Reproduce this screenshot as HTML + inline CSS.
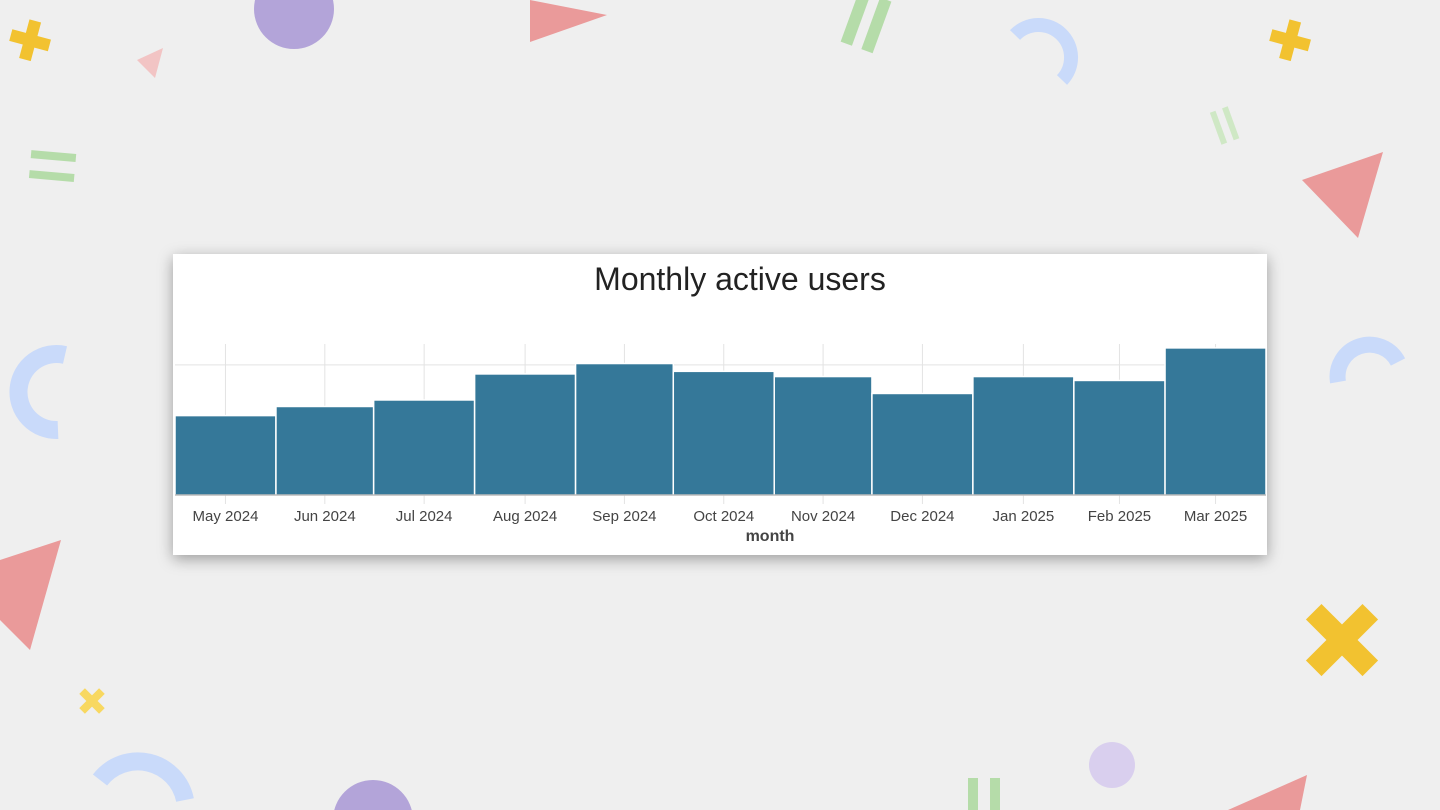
<!DOCTYPE html>
<html><head><meta charset="utf-8">
<style>
html,body{margin:0;padding:0;width:1440px;height:810px;overflow:hidden;}
body{background:#efefef;position:relative;font-family:"Liberation Sans",sans-serif;}
#card{position:absolute;left:173px;top:254px;width:1094px;height:301px;background:#fff;box-shadow:0 4px 14px rgba(0,0,0,0.35);}
svg{position:absolute;left:0;top:0;}
</style></head>
<body>
<svg width="1440" height="810" viewBox="0 0 1440 810" style="overflow:hidden">
  <path d="M10,35h14v-14h12v14h14v12h-14v14h-12v-14h-14z" transform="rotate(15 33 41)" fill="#f2c230"/>
  <circle cx="294" cy="9" r="40" fill="#b3a4d9"/>
  <polygon points="137,60 163,48 155,78" fill="#f2c4c4"/>
  <polygon points="530,0 607,15 530,42" fill="#ea9a9a"/>
  <g fill="#b5dca9" transform="rotate(20 868 25)"><rect x="848" y="-5" width="12" height="55"/><rect x="870" y="-5" width="12" height="55"/></g>
  <path d="M1015,35 A30,30 0 1 1 1062,80" fill="none" stroke="#c9dafa" stroke-width="14"/>
  <path d="M1270,35h14v-14h12v14h14v12h-14v14h-12v-14h-14z" transform="rotate(15 1293 41)" fill="#f2c230"/>
  <g fill="#cfe8c5" transform="rotate(-20 1226 125)"><rect x="1215" y="108" width="6" height="34"/><rect x="1228" y="108" width="6" height="34"/></g>
  <g fill="#b5dca9" transform="rotate(5 52 167)"><rect x="30" y="152" width="45" height="8"/><rect x="30" y="172" width="45" height="8"/></g>
  <polygon points="1302,180 1383,152 1358,238" fill="#ea9a9a"/>
  <path d="M65,355 A38,38 0 1 0 58,430" fill="none" stroke="#c9dafa" stroke-width="18"/>
  <path d="M1338,382 A32,32 0 0 1 1398,362" fill="none" stroke="#c9dafa" stroke-width="16"/>
  <polygon points="0,560 61,540 30,650 0,620" fill="#ea9a9a"/>
  <g fill="#f2c230" transform="rotate(45 1342 640)"><rect x="1302" y="629" width="80" height="22"/><rect x="1331" y="600" width="22" height="80"/></g>
  <g fill="#f8d860" transform="rotate(45 92 701)"><rect x="78" y="697" width="28" height="8"/><rect x="88" y="687" width="8" height="28"/></g>
  <path d="M100,780 A48,48 0 0 1 185,800" fill="none" stroke="#c9dafa" stroke-width="18"/>
  <circle cx="373" cy="820" r="40" fill="#b3a4d9"/>
  <g fill="#b5dca9"><rect x="968" y="778" width="10" height="32"/><rect x="990" y="778" width="10" height="32"/></g>
  <circle cx="1112" cy="765" r="23" fill="#d9cfee"/>
  <polygon points="1228,810 1307,775 1300,810" fill="#ea9a9a"/>
</svg>
<div id="card">
<svg id="chart" width="1094" height="301">
  <text x="567" y="36" text-anchor="middle" font-size="32" fill="#222">Monthly active users</text>
</svg>
</div>
<script>
const months = ["May 2024","Jun 2024","Jul 2024","Aug 2024","Sep 2024","Oct 2024","Nov 2024","Dec 2024","Jan 2025","Feb 2025","Mar 2025"];
const days = [31,30,31,31,30,31,30,31,31,28,31];
const users = [6.1,6.8,7.3,9.3,10.1,9.5,9.1,7.8,9.1,8.8,11.3];
const gridValues = [10];

const svg = document.getElementById('chart');
const NS = 'http://www.w3.org/2000/svg';
const x0 = 2, x1 = 1093, yBase = 241, yTop = 90, yMax = 11.6;
const totalDays = days.reduce((a,b)=>a+b,0);
function xs(d){ return x0 + (x1-x0)*d/totalDays; }
function ys(v){ return yBase - (yBase-yTop)*v/yMax; }
function mk(tag, attrs){ const e=document.createElementNS(NS,tag); for(const k in attrs) e.setAttribute(k,attrs[k]); svg.appendChild(e); return e; }

gridValues.forEach(v=>{
  const l = mk('line',{x1:x0,x2:x1,y1:ys(v),y2:ys(v),stroke:'#e3e3e3','stroke-width':1});
  
  
});
let cum = 0;
const centers = [];
months.forEach((m,i)=>{
  const a = xs(cum), b = xs(cum+days[i]);
  centers.push((a+b)/2);
  cum += days[i];
});
centers.forEach(c=>{
  const l = mk('line',{x1:c,x2:c,y1:yTop,y2:yBase+9,stroke:'#e3e3e3','stroke-width':1});
  
  
});
cum = 0;
months.forEach((m,i)=>{
  const a = xs(cum), b = xs(cum+days[i]);
  cum += days[i];
  const r = mk('rect',{x:a,y:ys(users[i]),width:b-a,height:yBase-ys(users[i]),fill:'#357899',stroke:'#fff','stroke-width':1.5});
  
  
  const t = mk('text',{x:centers[i],y:267,'text-anchor':'middle','font-size':15,fill:'#444'});
  t.textContent = m;
  
  
});
const base = mk('line',{x1:x0,x2:x1,y1:yBase,y2:yBase,stroke:'#999','stroke-width':1});


const xt = mk('text',{x:597,y:287,'text-anchor':'middle','font-size':16,'font-weight':'bold',fill:'#444'});
xt.textContent = 'month';


</script>
</body></html>
